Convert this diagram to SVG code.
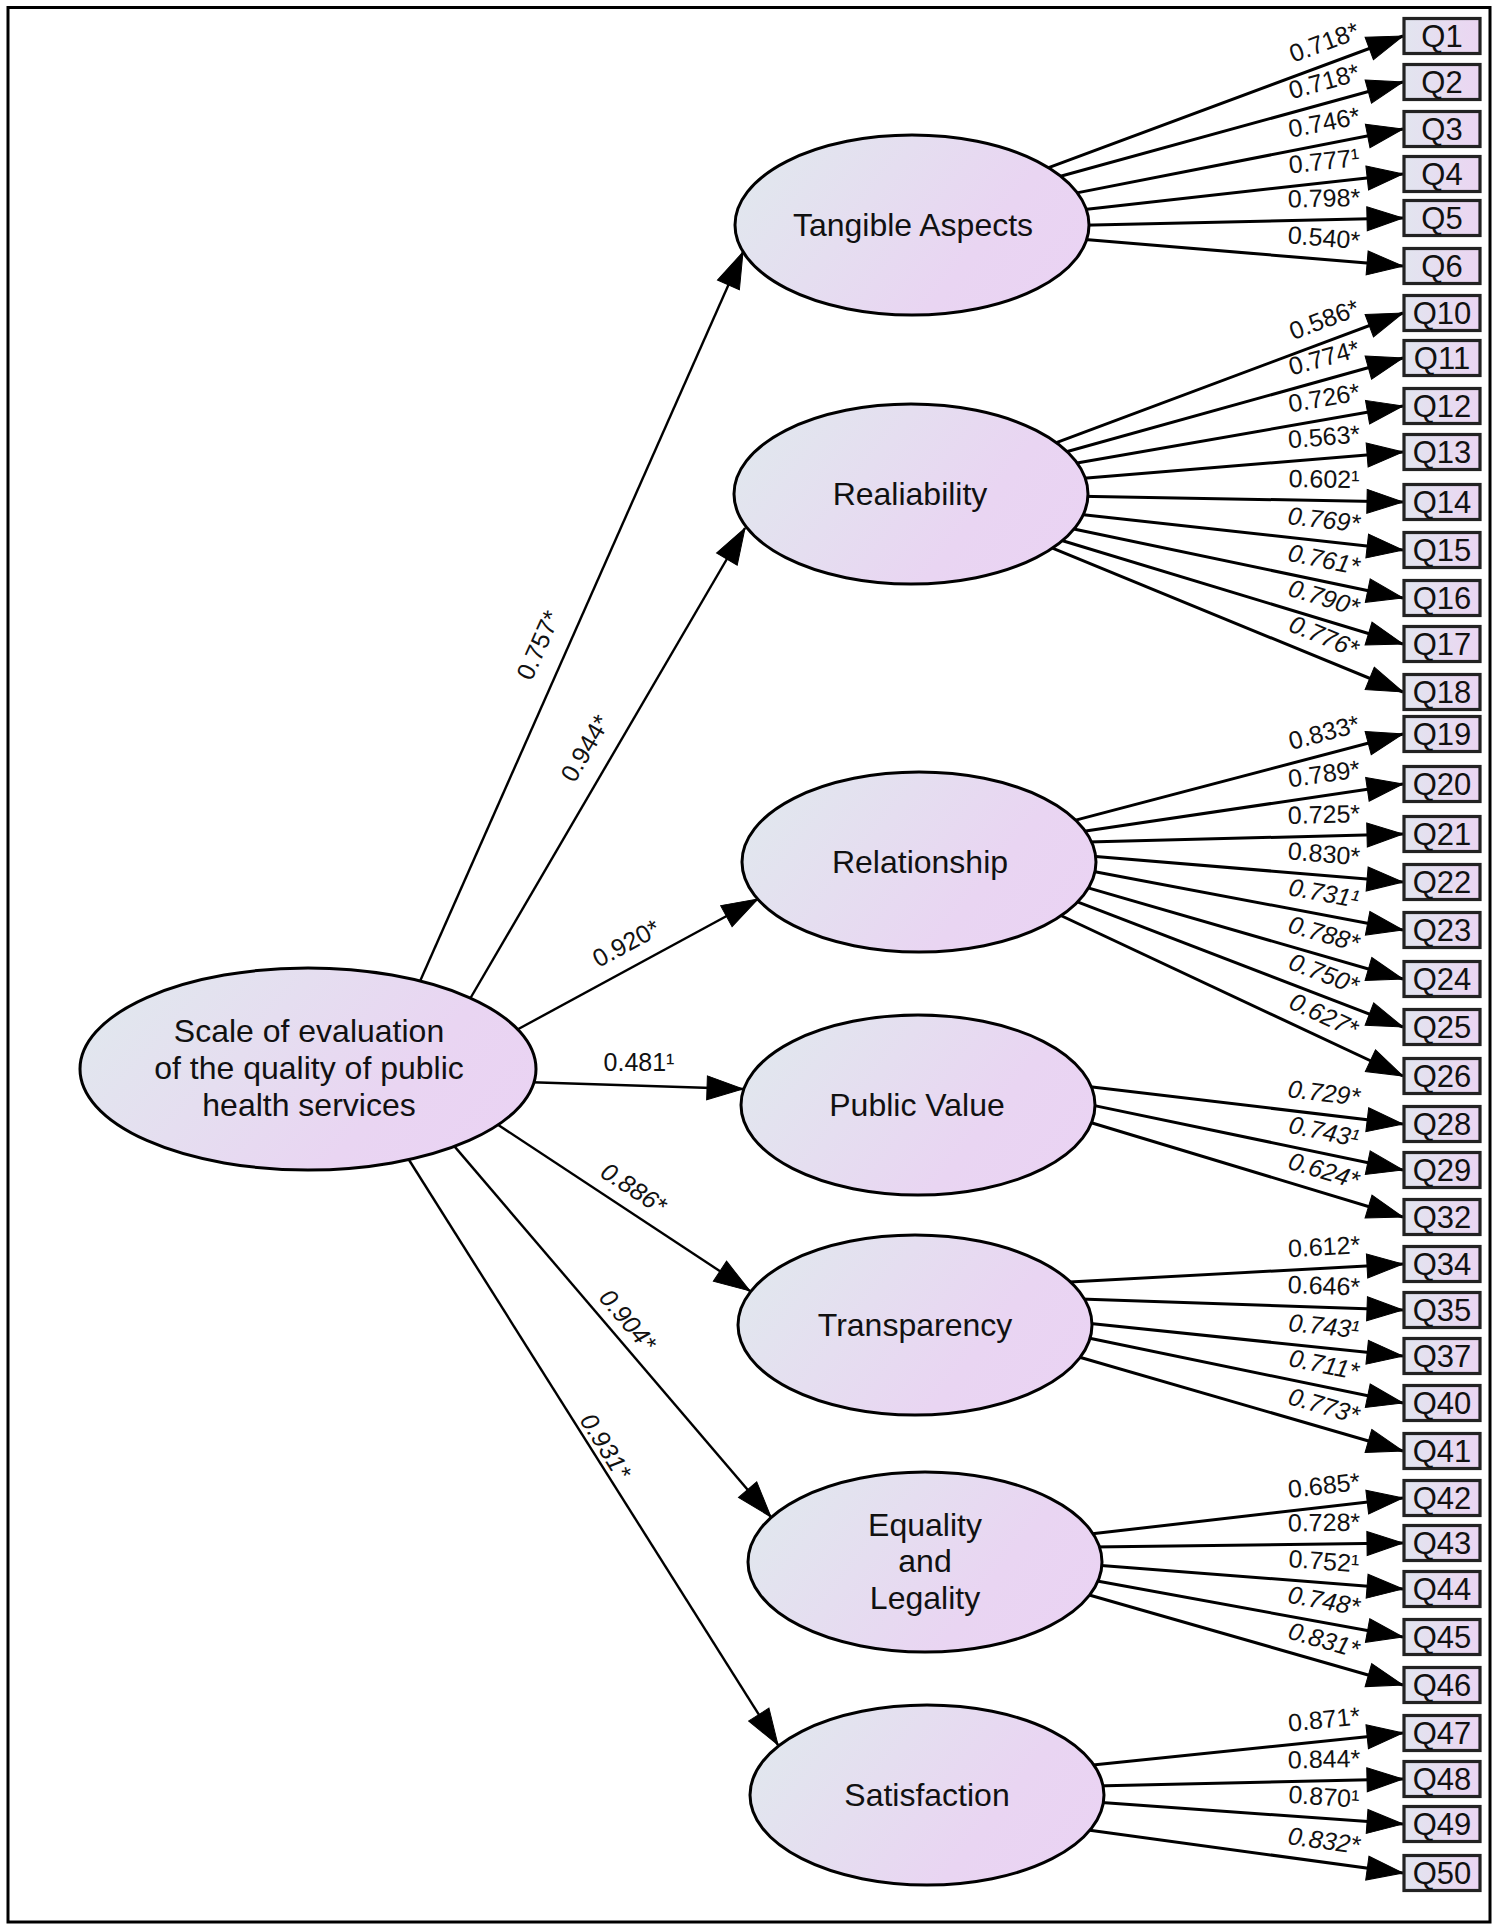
<svg xmlns="http://www.w3.org/2000/svg" width="1494" height="1928" viewBox="0 0 1494 1928">
<defs>
<linearGradient id="eg" x1="0" y1="0.3" x2="1" y2="0.7">
<stop offset="0" stop-color="#e1e7ee"/>
<stop offset="0.7" stop-color="#e9d5f2"/>
<stop offset="1" stop-color="#ead3f3"/>
</linearGradient>
<linearGradient id="bg" x1="0" y1="0" x2="1" y2="0">
<stop offset="0" stop-color="#e2e5ef"/>
<stop offset="1" stop-color="#ebd5f2"/>
</linearGradient>
<marker id="ah" markerUnits="userSpaceOnUse" markerWidth="40" markerHeight="28" viewBox="-2 -2 40 28" refX="36" refY="12" orient="auto">
<path d="M0,0 L36,12 L0,24 z" fill="#000" stroke="#000" stroke-width="1" stroke-linejoin="miter"/>
</marker>
</defs>
<style>
.c line{stroke:#000;stroke-width:3;marker-end:url(#ah)}
.m line{stroke:#000;stroke-width:2.4;marker-end:url(#ah)}
text{font-family:"Liberation Sans",Arial,Helvetica,sans-serif;fill:#111;text-anchor:middle}
.l{font-size:25px}
.i{font-style:italic}
.n ellipse{fill:url(#eg);stroke:#000;stroke-width:3}
.n text{font-size:32px}
.q rect{fill:url(#bg);stroke:#222;stroke-width:3.2}
.q text{font-size:31px}
</style>
<rect x="8" y="7.5" width="1482" height="1914.5" fill="#fff" stroke="#000" stroke-width="3"/>

<g id="connectors">
<g class="m">
<line x1="417" y1="988" x2="743" y2="252"/>
<line x1="467" y1="1004" x2="745" y2="528"/>
<line x1="511" y1="1033" x2="758" y2="899"/>
<line x1="524" y1="1082" x2="743" y2="1089"/>
<line x1="490" y1="1119.5" x2="750" y2="1291"/>
<line x1="448.5" y1="1139.4" x2="771" y2="1517"/>
<line x1="403.7" y1="1151.5" x2="778" y2="1745"/>
<text class="l" transform="translate(538,645) rotate(-66.11)" y="9">0.757*</text>
<text class="l" transform="translate(585,748) rotate(-59.69)" y="9">0.944*</text>
<text class="l" transform="translate(626,943) rotate(-28.37)" y="9">0.920*</text>
<text class="l" transform="translate(639,1062)" y="9">0.481¹</text>
<text class="l i" transform="translate(634,1188) rotate(33.37)" y="9">0.886*</text>
<text class="l i" transform="translate(628,1320) rotate(49.5)" y="9">0.904*</text>
<text class="l i" transform="translate(606,1446) rotate(57.76)" y="9">0.931*</text>
</g>
<g class="c">
<line x1="1042.6" y1="169.8" x2="1403" y2="36"/>
<line x1="1056" y1="177.5" x2="1403" y2="82"/>
<line x1="1073" y1="193.6" x2="1403" y2="129"/>
<line x1="1080.3" y1="209.9" x2="1403" y2="174"/>
<line x1="1082.3" y1="225.2" x2="1403" y2="218"/>
<line x1="1082.3" y1="239.3" x2="1403" y2="266"/>
<text class="l" transform="translate(1403,36) rotate(-20.36)" x="-76.1" y="-13">0.718*</text>
<text class="l" transform="translate(1403,82) rotate(-15.39)" x="-75.9" y="-13">0.718*</text>
<text class="l" transform="translate(1403,129) rotate(-11.07)" x="-76.2" y="-13">0.746*</text>
<text class="l" transform="translate(1403,174) rotate(-6.35)" x="-77" y="-13">0.777¹</text>
<text class="l" transform="translate(1403,218) rotate(-1.28)" x="-78.5" y="-13">0.798*</text>
<text class="l" transform="translate(1403,266) rotate(4.75)" x="-81.1" y="-13">0.540*</text>

<line x1="1051" y1="444.7" x2="1403" y2="313"/>
<line x1="1061.1" y1="453.3" x2="1403" y2="358"/>
<line x1="1071.2" y1="464" x2="1403" y2="406"/>
<line x1="1077.9" y1="478.7" x2="1403" y2="452"/>
<line x1="1080.3" y1="496.2" x2="1403" y2="502"/>
<line x1="1079" y1="514.2" x2="1403" y2="550"/>
<line x1="1070.2" y1="528.3" x2="1403" y2="598"/>
<line x1="1059.4" y1="539.7" x2="1403" y2="644"/>
<line x1="1047.6" y1="546.2" x2="1403" y2="692"/>
<text class="l" transform="translate(1403,313) rotate(-20.51)" x="-76.1" y="-13">0.586*</text>
<text class="l" transform="translate(1403,358) rotate(-15.58)" x="-75.9" y="-13">0.774*</text>
<text class="l" transform="translate(1403,406) rotate(-9.92)" x="-76.4" y="-13">0.726*</text>
<text class="l" transform="translate(1403,452) rotate(-4.69)" x="-77.5" y="-13">0.563*</text>
<text class="l" transform="translate(1403,502) rotate(1.04)" x="-79.4" y="-13">0.602¹</text>
<text class="l i" transform="translate(1403,550) rotate(6.3)" x="-81.9" y="-13">0.769*</text>
<text class="l i" transform="translate(1403,598) rotate(11.83)" x="-85.3" y="-13">0.761*</text>
<text class="l i" transform="translate(1403,644) rotate(16.89)" x="-89.2" y="-13">0.790*</text>
<text class="l i" transform="translate(1403,692) rotate(22.31)" x="-94.4" y="-13">0.776*</text>

<line x1="1072.9" y1="820.9" x2="1403" y2="734"/>
<line x1="1082.3" y1="831.4" x2="1403" y2="784"/>
<line x1="1088" y1="842.1" x2="1403" y2="834"/>
<line x1="1089.7" y1="856" x2="1403" y2="882"/>
<line x1="1089.7" y1="870.7" x2="1403" y2="930"/>
<line x1="1083" y1="886.4" x2="1403" y2="979"/>
<line x1="1072.9" y1="900.1" x2="1403" y2="1027"/>
<line x1="1054.4" y1="912.5" x2="1403" y2="1076"/>
<text class="l" transform="translate(1403,734) rotate(-14.75)" x="-75.9" y="-13">0.833*</text>
<text class="l" transform="translate(1403,784) rotate(-8.4)" x="-76.6" y="-13">0.789*</text>
<text class="l" transform="translate(1403,834) rotate(-1.47)" x="-78.5" y="-13">0.725*</text>
<text class="l" transform="translate(1403,882) rotate(4.74)" x="-81.1" y="-13">0.830*</text>
<text class="l i" transform="translate(1403,930) rotate(10.72)" x="-84.6" y="-13">0.731¹</text>
<text class="l i" transform="translate(1403,979) rotate(16.14)" x="-88.6" y="-13">0.788*</text>
<text class="l i" transform="translate(1403,1027) rotate(21.02)" x="-93.1" y="-13">0.750*</text>
<text class="l i" transform="translate(1403,1076) rotate(25.12)" x="-97.6" y="-13">0.627*</text>

<line x1="1088" y1="1086.4" x2="1403" y2="1124"/>
<line x1="1089.7" y1="1104.6" x2="1403" y2="1170"/>
<line x1="1086.4" y1="1121.2" x2="1403" y2="1217"/>
<text class="l i" transform="translate(1403,1124) rotate(6.8)" x="-82.2" y="-13">0.729*</text>
<text class="l i" transform="translate(1403,1170) rotate(11.79)" x="-85.3" y="-13">0.743¹</text>
<text class="l i" transform="translate(1403,1217) rotate(16.84)" x="-89.2" y="-13">0.624*</text>

<line x1="1069.5" y1="1282.1" x2="1403" y2="1264"/>
<line x1="1080.3" y1="1298.9" x2="1403" y2="1310"/>
<line x1="1085.7" y1="1323" x2="1403" y2="1356"/>
<line x1="1083.7" y1="1337" x2="1403" y2="1403"/>
<line x1="1072.9" y1="1355.2" x2="1403" y2="1451"/>
<text class="l" transform="translate(1403,1264) rotate(-3.11)" x="-77.9" y="-13">0.612*</text>
<text class="l" transform="translate(1403,1310) rotate(1.97)" x="-79.8" y="-13">0.646*</text>
<text class="l i" transform="translate(1403,1356) rotate(5.94)" x="-81.7" y="-13">0.743¹</text>
<text class="l i" transform="translate(1403,1403) rotate(11.69)" x="-85.2" y="-13">0.711*</text>
<text class="l i" transform="translate(1403,1451) rotate(16.19)" x="-88.6" y="-13">0.773*</text>

<line x1="1088" y1="1534.3" x2="1403" y2="1498"/>
<line x1="1093" y1="1547.1" x2="1403" y2="1543"/>
<line x1="1094.8" y1="1564.9" x2="1403" y2="1589"/>
<line x1="1093" y1="1580.3" x2="1403" y2="1637"/>
<line x1="1085.7" y1="1594" x2="1403" y2="1685"/>
<text class="l" transform="translate(1403,1498) rotate(-6.58)" x="-77" y="-13">0.685*</text>
<text class="l" transform="translate(1403,1543) rotate(-0.76)" x="-78.7" y="-13">0.728*</text>
<text class="l" transform="translate(1403,1589) rotate(4.48)" x="-81" y="-13">0.752¹</text>
<text class="l i" transform="translate(1403,1637) rotate(10.36)" x="-84.3" y="-13">0.748*</text>
<text class="l i" transform="translate(1403,1685) rotate(16)" x="-88.5" y="-13">0.831*</text>

<line x1="1088" y1="1765.6" x2="1403" y2="1733"/>
<line x1="1094.8" y1="1785.9" x2="1403" y2="1779"/>
<line x1="1094.8" y1="1802" x2="1403" y2="1824"/>
<line x1="1088" y1="1830.1" x2="1403" y2="1873"/>
<text class="l" transform="translate(1403,1733) rotate(-5.91)" x="-77.1" y="-13">0.871*</text>
<text class="l" transform="translate(1403,1779) rotate(-1.28)" x="-78.5" y="-13">0.844*</text>
<text class="l" transform="translate(1403,1824) rotate(4.08)" x="-80.8" y="-13">0.870¹</text>
<text class="l i" transform="translate(1403,1873) rotate(7.76)" x="-82.7" y="-13">0.832*</text>
</g>
</g>

<g id="main" class="n"><ellipse cx="308" cy="1069" rx="228" ry="101"/>
<text x="309" y="1042">Scale of evaluation</text><text x="309" y="1079">of the quality of public</text><text x="309" y="1116">health services</text></g>
<g id="tangible" class="n"><ellipse cx="912" cy="225" rx="177" ry="90"/><text x="913" y="236">Tangible Aspects</text></g>
<g id="realiability" class="n"><ellipse cx="911" cy="494" rx="177" ry="90"/><text x="910" y="505">Realiability</text></g>
<g id="relationship" class="n"><ellipse cx="919" cy="862" rx="177" ry="90"/><text x="920" y="873">Relationship</text></g>
<g id="publicvalue" class="n"><ellipse cx="918" cy="1105" rx="177" ry="90"/><text x="917" y="1116">Public Value</text></g>
<g id="transparency" class="n"><ellipse cx="915" cy="1325" rx="177" ry="90"/><text x="915" y="1336">Transparency</text></g>
<g id="equality" class="n"><ellipse cx="925" cy="1562" rx="177" ry="90"/><text x="925" y="1536">Equality</text><text x="925" y="1572">and</text><text x="925" y="1609">Legality</text></g>
<g id="satisfaction" class="n"><ellipse cx="927" cy="1795" rx="177" ry="90"/><text x="927" y="1806">Satisfaction</text></g>

<g id="q1" class="q"><rect x="1404" y="18.5" width="76" height="35"/><text x="1442" y="47">Q1</text></g>
<g id="q2" class="q"><rect x="1404" y="64.5" width="76" height="35"/><text x="1442" y="93">Q2</text></g>
<g id="q3" class="q"><rect x="1404" y="111.5" width="76" height="35"/><text x="1442" y="140">Q3</text></g>
<g id="q4" class="q"><rect x="1404" y="156.5" width="76" height="35"/><text x="1442" y="185">Q4</text></g>
<g id="q5" class="q"><rect x="1404" y="200.5" width="76" height="35"/><text x="1442" y="229">Q5</text></g>
<g id="q6" class="q"><rect x="1404" y="248.5" width="76" height="35"/><text x="1442" y="277">Q6</text></g>
<g id="q10" class="q"><rect x="1404" y="295.5" width="76" height="35"/><text x="1442" y="324">Q10</text></g>
<g id="q11" class="q"><rect x="1404" y="340.5" width="76" height="35"/><text x="1442" y="369">Q11</text></g>
<g id="q12" class="q"><rect x="1404" y="388.5" width="76" height="35"/><text x="1442" y="417">Q12</text></g>
<g id="q13" class="q"><rect x="1404" y="434.5" width="76" height="35"/><text x="1442" y="463">Q13</text></g>
<g id="q14" class="q"><rect x="1404" y="484.5" width="76" height="35"/><text x="1442" y="513">Q14</text></g>
<g id="q15" class="q"><rect x="1404" y="532.5" width="76" height="35"/><text x="1442" y="561">Q15</text></g>
<g id="q16" class="q"><rect x="1404" y="580.5" width="76" height="35"/><text x="1442" y="609">Q16</text></g>
<g id="q17" class="q"><rect x="1404" y="626.5" width="76" height="35"/><text x="1442" y="655">Q17</text></g>
<g id="q18" class="q"><rect x="1404" y="674.5" width="76" height="35"/><text x="1442" y="703">Q18</text></g>
<g id="q19" class="q"><rect x="1404" y="716.5" width="76" height="35"/><text x="1442" y="745">Q19</text></g>
<g id="q20" class="q"><rect x="1404" y="766.5" width="76" height="35"/><text x="1442" y="795">Q20</text></g>
<g id="q21" class="q"><rect x="1404" y="816.5" width="76" height="35"/><text x="1442" y="845">Q21</text></g>
<g id="q22" class="q"><rect x="1404" y="864.5" width="76" height="35"/><text x="1442" y="893">Q22</text></g>
<g id="q23" class="q"><rect x="1404" y="912.5" width="76" height="35"/><text x="1442" y="941">Q23</text></g>
<g id="q24" class="q"><rect x="1404" y="961.5" width="76" height="35"/><text x="1442" y="990">Q24</text></g>
<g id="q25" class="q"><rect x="1404" y="1009.5" width="76" height="35"/><text x="1442" y="1038">Q25</text></g>
<g id="q26" class="q"><rect x="1404" y="1058.5" width="76" height="35"/><text x="1442" y="1087">Q26</text></g>
<g id="q28" class="q"><rect x="1404" y="1106.5" width="76" height="35"/><text x="1442" y="1135">Q28</text></g>
<g id="q29" class="q"><rect x="1404" y="1152.5" width="76" height="35"/><text x="1442" y="1181">Q29</text></g>
<g id="q32" class="q"><rect x="1404" y="1199.5" width="76" height="35"/><text x="1442" y="1228">Q32</text></g>
<g id="q34" class="q"><rect x="1404" y="1246.5" width="76" height="35"/><text x="1442" y="1275">Q34</text></g>
<g id="q35" class="q"><rect x="1404" y="1292.5" width="76" height="35"/><text x="1442" y="1321">Q35</text></g>
<g id="q37" class="q"><rect x="1404" y="1338.5" width="76" height="35"/><text x="1442" y="1367">Q37</text></g>
<g id="q40" class="q"><rect x="1404" y="1385.5" width="76" height="35"/><text x="1442" y="1414">Q40</text></g>
<g id="q41" class="q"><rect x="1404" y="1433.5" width="76" height="35"/><text x="1442" y="1462">Q41</text></g>
<g id="q42" class="q"><rect x="1404" y="1480.5" width="76" height="35"/><text x="1442" y="1509">Q42</text></g>
<g id="q43" class="q"><rect x="1404" y="1525.5" width="76" height="35"/><text x="1442" y="1554">Q43</text></g>
<g id="q44" class="q"><rect x="1404" y="1571.5" width="76" height="35"/><text x="1442" y="1600">Q44</text></g>
<g id="q45" class="q"><rect x="1404" y="1619.5" width="76" height="35"/><text x="1442" y="1648">Q45</text></g>
<g id="q46" class="q"><rect x="1404" y="1667.5" width="76" height="35"/><text x="1442" y="1696">Q46</text></g>
<g id="q47" class="q"><rect x="1404" y="1715.5" width="76" height="35"/><text x="1442" y="1744">Q47</text></g>
<g id="q48" class="q"><rect x="1404" y="1761.5" width="76" height="35"/><text x="1442" y="1790">Q48</text></g>
<g id="q49" class="q"><rect x="1404" y="1806.5" width="76" height="35"/><text x="1442" y="1835">Q49</text></g>
<g id="q50" class="q"><rect x="1404" y="1855.5" width="76" height="35"/><text x="1442" y="1884">Q50</text></g>
</svg>
